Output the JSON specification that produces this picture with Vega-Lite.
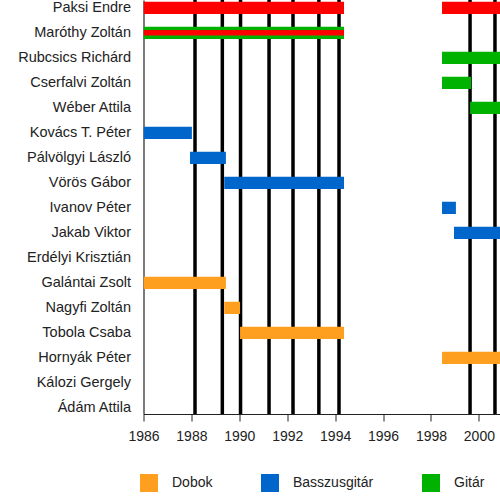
{
  "$schema": "https://vega.github.io/schema/vega-lite/v6.json",
  "autosize": {"type": "none"},
  "width": 356.5,
  "height": 414,
  "padding": {"left": 143.5, "top": 0, "right": 0, "bottom": 86},
  "background": "white",
  "config": {
    "view": {"stroke": null},
    "font": "Liberation Sans",
    "axis": {"labelFont": "Liberation Sans", "labelColor": "#222", "domainColor": "#222", "tickColor": "#222", "grid": false, "title": null}
  },
  "datasets": {
    "albums": [
      {"year": 1988.15}, {"year": 1989.29}, {"year": 1990.05}, {"year": 1991.24},
      {"year": 1992.24}, {"year": 1993.32}, {"year": 1994.16}, {"year": 1999.63}, {"year": 2000.67}
    ],
    "members": [
      {"name": "Paksi Endre", "role": "Ének", "start": 1986, "end": 1994.37},
      {"name": "Paksi Endre", "role": "Ének", "start": 1998.46, "end": 2002},
      {"name": "Maróthy Zoltán", "role": "Gitár", "start": 1986, "end": 1994.37},
      {"name": "Rubcsics Richárd", "role": "Gitár", "start": 1998.46, "end": 2002},
      {"name": "Cserfalvi Zoltán", "role": "Gitár", "start": 1998.46, "end": 1999.67},
      {"name": "Wéber Attila", "role": "Gitár", "start": 1999.63, "end": 2002},
      {"name": "Kovács T. Péter", "role": "Basszusgitár", "start": 1986, "end": 1988.02},
      {"name": "Pálvölgyi László", "role": "Basszusgitár", "start": 1987.94, "end": 1989.44},
      {"name": "Vörös Gábor", "role": "Basszusgitár", "start": 1989.37, "end": 1994.37},
      {"name": "Ivanov Péter", "role": "Basszusgitár", "start": 1998.46, "end": 1999.04},
      {"name": "Jakab Viktor", "role": "Basszusgitár", "start": 1998.96, "end": 2002},
      {"name": "Galántai Zsolt", "role": "Dobok", "start": 1986, "end": 1989.44},
      {"name": "Nagyfi Zoltán", "role": "Dobok", "start": 1989.37, "end": 1990.03},
      {"name": "Tobola Csaba", "role": "Dobok", "start": 1990.03, "end": 1994.37},
      {"name": "Hornyák Péter", "role": "Dobok", "start": 1998.46, "end": 2002}
    ],
    "secondary": [
      {"name": "Maróthy Zoltán", "role": "Ének", "start": 1986, "end": 1994.37}
    ]
  },
  "layer": [
    {
      "data": {"name": "albums"},
      "mark": {"type": "rule", "color": "black", "strokeWidth": 3.5},
      "encoding": {
        "x": {
          "field": "year", "type": "quantitative",
          "scale": {"domain": [1986, 2000.88], "nice": false, "zero": false},
          "axis": {"values": [1986, 1988, 1990, 1992, 1994, 1996, 1998, 2000], "format": "d", "labelFontSize": 14, "tickSize": 7, "labelPadding": 8, "domainWidth": 1.2, "labelFlush": false, "labelOverlap": false}
        }
      }
    },
    {
      "data": {"name": "members"},
      "mark": {"type": "bar", "clip": true},
      "encoding": {
        "y": {
          "field": "name", "type": "nominal",
          "sort": ["Paksi Endre", "Maróthy Zoltán", "Rubcsics Richárd", "Cserfalvi Zoltán", "Wéber Attila", "Kovács T. Péter", "Pálvölgyi László", "Vörös Gábor", "Ivanov Péter", "Jakab Viktor", "Erdélyi Krisztián", "Galántai Zsolt", "Nagyfi Zoltán", "Tobola Csaba", "Hornyák Péter", "Kálozi Gergely", "Ádám Attila"],
          "scale": {"domain": ["Paksi Endre", "Maróthy Zoltán", "Rubcsics Richárd", "Cserfalvi Zoltán", "Wéber Attila", "Kovács T. Péter", "Pálvölgyi László", "Vörös Gábor", "Ivanov Péter", "Jakab Viktor", "Erdélyi Krisztián", "Galántai Zsolt", "Nagyfi Zoltán", "Tobola Csaba", "Hornyák Péter", "Kálozi Gergely", "Ádám Attila"], "paddingInner": 0.508, "paddingOuter": 0.034, "align": 1},
          "axis": {"ticks": false, "tickSize": 0, "labelPadding": 13, "labelFontSize": 14.5, "domainWidth": 1.2}
        },
        "x": {"field": "start", "type": "quantitative"},
        "x2": {"field": "end"},
        "color": {
          "field": "role", "type": "nominal",
          "scale": {"domain": ["Dobok", "Basszusgitár", "Gitár", "Ének"], "range": ["#FF9F1F", "#0066CC", "#00B200", "#FF0000"]},
          "legend": {"orient": "none", "direction": "horizontal", "legendX": -3.5, "legendY": 474, "title": null, "padding": 0, "values": ["Dobok", "Basszusgitár", "Gitár"], "symbolType": "square", "symbolSize": 324, "symbolStrokeWidth": 0, "symbolOpacity": 1, "labelFontSize": 14, "labelFont": "Liberation Sans", "labelColor": "#222", "labelOffset": 14, "columnPadding": 48}
        }
      }
    },
    {
      "data": {"name": "secondary"},
      "mark": {"type": "bar", "clip": true, "size": 5.5},
      "encoding": {
        "y": {"field": "name", "type": "nominal"},
        "x": {"field": "start", "type": "quantitative"},
        "x2": {"field": "end"},
        "color": {"field": "role", "type": "nominal"}
      }
    }
  ],
  "resolve": {"scale": {"x": "shared", "y": "shared", "color": "shared"}}
}
